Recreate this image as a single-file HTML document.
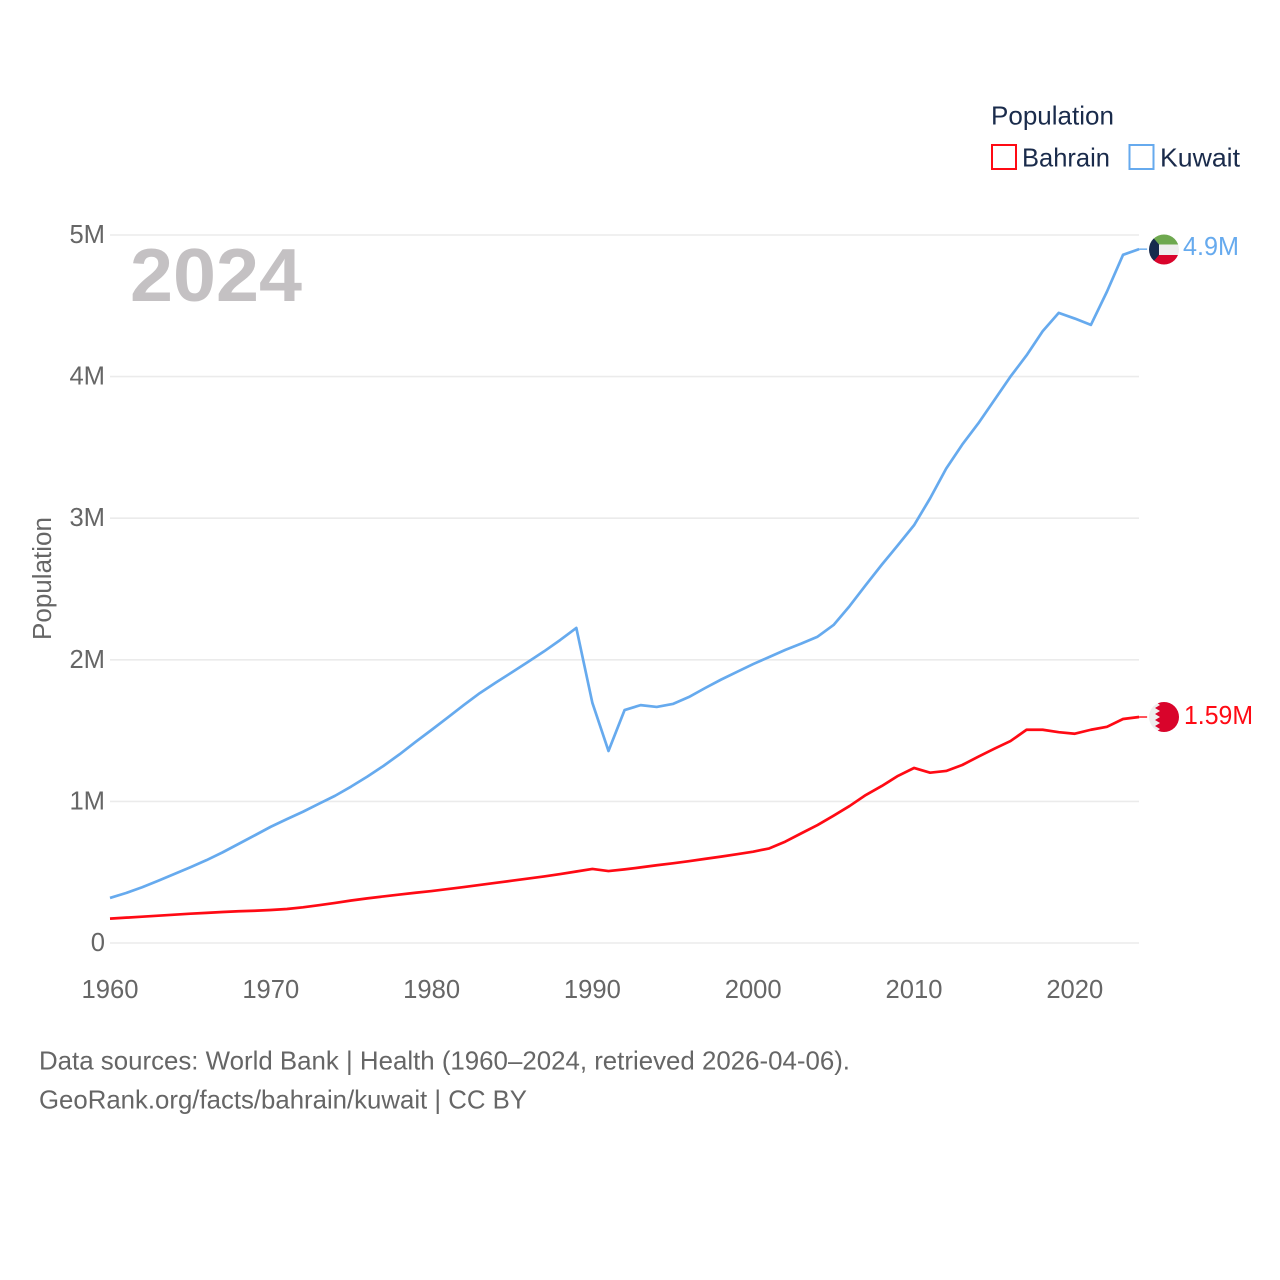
<!DOCTYPE html>
<html lang="en">
<head>
<meta charset="utf-8">
<title>Population: Bahrain and Kuwait</title>
<style>
html,body{margin:0;padding:0;background:#fff;width:1280px;height:1280px;overflow:hidden}
svg{display:block}
text{font-family:"Liberation Sans","DejaVu Sans",sans-serif}
</style>
</head>
<body>
<svg id="chart" xmlns="http://www.w3.org/2000/svg" width="1280" height="1280" viewBox="0 0 1280 1280">
  <g id="grid"></g>
  <g id="y-ticks"></g>
  <g id="x-ticks"></g>
  <text transform="translate(51,640) rotate(-90)" font-size="25.5" fill="#666" textLength="123" lengthAdjust="spacingAndGlyphs">Population</text>
  <text x="130" y="301" font-size="75" font-weight="700" fill="#c4c1c3" textLength="172" lengthAdjust="spacingAndGlyphs">2024</text>
  <g id="series"></g>

  <g>
    <text x="991" y="124.500" font-size="26" fill="#1a2b4b" textLength="123" lengthAdjust="spacingAndGlyphs">Population</text>
    <g>
      <rect x="992" y="145" width="24" height="24" fill="#fff" stroke="#ff0a14" stroke-width="2"></rect>
      <text x="1022" y="166.500" font-size="26" fill="#1a2b4b" textLength="88" lengthAdjust="spacingAndGlyphs">Bahrain</text>
    </g>
    <g>
      <rect x="1129.500" y="145" width="24" height="24" fill="#fff" stroke="#66aaee" stroke-width="2"></rect>
      <text x="1160" y="166.500" font-size="26" fill="#1a2b4b" textLength="80" lengthAdjust="spacingAndGlyphs">Kuwait</text>
    </g>
  </g>

  <defs>
    <clipPath id="kw-clip"><circle cx="1164" cy="249.500" r="15"></circle></clipPath>
    <clipPath id="bh-clip"><circle cx="1164" cy="717" r="15"></circle></clipPath>
  </defs>
  <g clip-path="url(#kw-clip)">
    <rect x="1149" y="234" width="30" height="10.500" fill="#6ea84f"></rect>
    <rect x="1149" y="244.500" width="30" height="10.500" fill="#eeeeee"></rect>
    <rect x="1149" y="255" width="30" height="10.500" fill="#d9042b"></rect>
    <polygon points="1149,234 1150,234 1159,244.500 1159,255 1150,265.500 1149,265.500" fill="#172b4d"></polygon>
  </g>
  <g clip-path="url(#bh-clip)">
    <rect x="1149" y="702" width="30" height="30" fill="#eeeeee"></rect>
    <polygon points="1156,702 1179,702 1179,732 1156,732 1160,729 1155,726 1160,723 1155,720 1160,717 1155,714 1160,711 1155,708 1160,705" fill="#d9042b"></polygon>
  </g>

  <text x="1183" y="255" font-size="25.6" fill="#66aaee" textLength="56" lengthAdjust="spacingAndGlyphs">4.9M</text>
  <text x="1184" y="724" font-size="25.6" fill="#ff0a14" textLength="69" lengthAdjust="spacingAndGlyphs">1.59M</text>

  <text x="39" y="1069.500" font-size="25.6" fill="#666" textLength="811" lengthAdjust="spacingAndGlyphs">Data sources: World Bank | Health (1960–2024, retrieved 2026-04-06).</text>
  <text x="39" y="1108.500" font-size="25.6" fill="#666" textLength="488" lengthAdjust="spacingAndGlyphs">GeoRank.org/facts/bahrain/kuwait | CC BY</text>
</svg>
<script>
const startYear = 1960;
const kuwaitValues = [
  0.318,0.353,0.394,0.440,0.487,0.535,0.585,0.640,0.700,0.760,
  0.821,0.875,0.927,0.984,1.040,1.105,1.175,1.250,1.332,1.420,
  1.505,1.592,1.680,1.765,1.840,1.912,1.985,2.060,2.140,2.225,
  1.695,1.356,1.645,1.680,1.667,1.688,1.737,1.800,1.860,1.915,
  1.970,2.020,2.070,2.115,2.163,2.246,2.380,2.528,2.672,2.810,
  2.950,3.140,3.350,3.520,3.670,3.835,4.000,4.150,4.320,4.450,
  4.410,4.365,4.600,4.860,4.900
];
const bahrainValues = [
  0.172,0.179,0.186,0.193,0.200,0.207,0.213,0.219,0.224,0.228,
  0.233,0.240,0.252,0.267,0.283,0.300,0.315,0.329,0.342,0.355,
  0.367,0.381,0.395,0.410,0.425,0.440,0.455,0.470,0.487,0.505,
  0.523,0.508,0.520,0.534,0.549,0.563,0.578,0.594,0.610,0.627,
  0.645,0.668,0.716,0.775,0.833,0.899,0.968,1.045,1.109,1.180,
  1.236,1.203,1.215,1.257,1.316,1.372,1.426,1.506,1.506,1.489,
  1.478,1.506,1.527,1.582,1.596
];
const yTickValues = [0,1,2,3,4,5];
const yTickLabels = ['0','1M','2M','3M','4M','5M'];
const xTickYears = [1960,1970,1980,1990,2000,2010,2020];

const svgNS = 'http://www.w3.org/2000/svg';
function xScale(year){ return 110 + (year - 1960) * 16.08; }
function yScale(value){ return 943 - value * 141.6; }

function svgEl(tag, parentId){
  const el = document.createElementNS(svgNS, tag);
  document.getElementById(parentId).appendChild(el);
  return el;
}

yTickValues.forEach(function(v, i){
  const line = svgEl('line', 'grid');
  
  
  line.setAttribute('x1', 110);
  line.setAttribute('x2', 1139);
  line.setAttribute('y1', yScale(v));
  line.setAttribute('y2', yScale(v));
  line.setAttribute('stroke', '#ebebeb');
  line.setAttribute('stroke-width', 1.6);

  const label = svgEl('text', 'y-ticks');
  
  
  label.setAttribute('x', 105);
  label.setAttribute('y', yScale(v) + 8);
  label.setAttribute('text-anchor', 'end');
  label.setAttribute('font-size', '25.6');
  label.setAttribute('fill', '#666');
  label.textContent = yTickLabels[i];
});

xTickYears.forEach(function(year){
  const label = svgEl('text', 'x-ticks');
  
  
  label.setAttribute('x', xScale(year));
  label.setAttribute('y', 998);
  label.setAttribute('text-anchor', 'middle');
  label.setAttribute('font-size', '25.6');
  label.setAttribute('fill', '#666');
  label.textContent = String(year);
});

function linePoints(values){
  return values.map(function(v, i){
    return xScale(startYear + i).toFixed(2) + ',' + yScale(v).toFixed(2);
  }).join(' ');
}

function tailPoints(values){
  const last = values[values.length - 1];
  const lastX = xScale(startYear + values.length - 1);
  return lastX.toFixed(2) + ',' + yScale(last).toFixed(2) + ' ' + (lastX + 8).toFixed(2) + ',' + yScale(last).toFixed(2);
}

const kuwaitLine = svgEl('polyline', 'series');


kuwaitLine.setAttribute('points', linePoints(kuwaitValues));
kuwaitLine.setAttribute('fill', 'none');
kuwaitLine.setAttribute('stroke', '#66aaee');
kuwaitLine.setAttribute('stroke-width', 2.7);
kuwaitLine.setAttribute('stroke-linejoin', 'round');

const kuwaitTail = svgEl('polyline', 'series');


kuwaitTail.setAttribute('points', tailPoints(kuwaitValues));
kuwaitTail.setAttribute('fill', 'none');
kuwaitTail.setAttribute('stroke', '#66aaee');
kuwaitTail.setAttribute('stroke-width', 1.4);

const bahrainLine = svgEl('polyline', 'series');


bahrainLine.setAttribute('points', linePoints(bahrainValues));
bahrainLine.setAttribute('fill', 'none');
bahrainLine.setAttribute('stroke', '#ff0a14');
bahrainLine.setAttribute('stroke-width', 2.7);
bahrainLine.setAttribute('stroke-linejoin', 'round');

const bahrainTail = svgEl('polyline', 'series');


bahrainTail.setAttribute('points', tailPoints(bahrainValues));
bahrainTail.setAttribute('fill', 'none');
bahrainTail.setAttribute('stroke', '#ff0a14');
bahrainTail.setAttribute('stroke-width', 1.4);
</script>
</body>
</html>
